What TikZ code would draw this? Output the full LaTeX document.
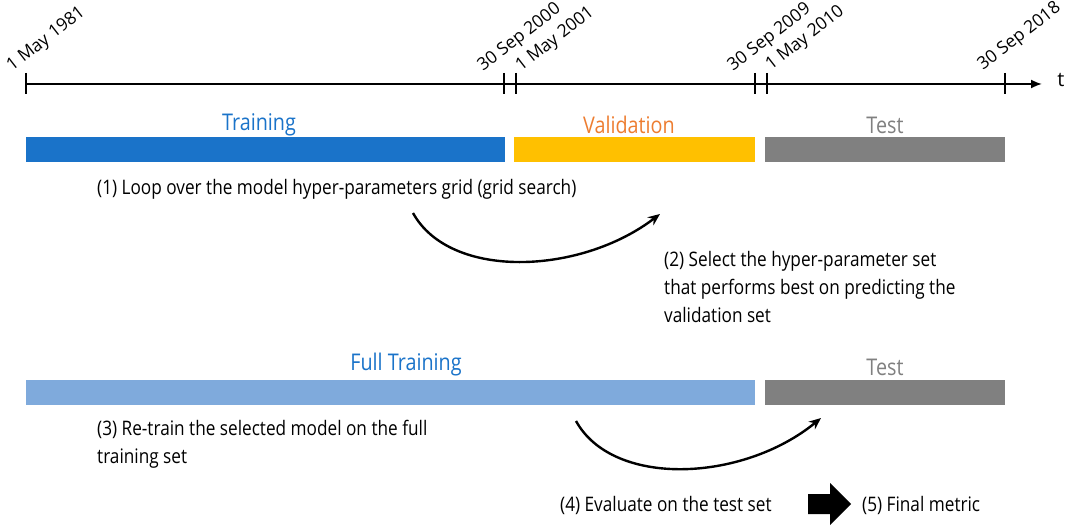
\documentclass[tikz,border=0pt]{standalone}
\usepackage{fontspec}
\setmainfont{Open Sans}
\newfontfamily\condfont{Open Sans}[FakeStretch=0.86]
\usetikzlibrary{arrows.meta}
\definecolor{trainblue}{HTML}{1A73C9}
\definecolor{valyellow}{HTML}{FFC000}
\definecolor{valorange}{HTML}{ED7D31}
\definecolor{testgrey}{HTML}{808080}
\definecolor{fullblue}{HTML}{7FAADC}
\tikzset{
  datelbl/.style={anchor=base west,rotate=38,inner sep=0pt,font=\fontsize{17.5}{20}\selectfont},
  tick/.style={line width=2.6pt},
  bar/.style={draw=none,inner sep=0pt,minimum height=25pt,anchor=north west},
  barlbl/.style={inner sep=0pt,font=\condfont\fontsize{23}{27}\selectfont},
  note/.style={inner sep=0pt,align=left,font=\condfont\fontsize{20}{28}\selectfont},
  curvearrow/.style={line width=2.4pt,-{Stealth[length=12pt,width=10pt]}},
}
\begin{document}
\begin{tikzpicture}[x=1pt,y=-1pt]
\useasboundingbox (0,0) rectangle (1071,526);
% timeline
\coordinate (t0) at (26,84);
\coordinate (tend) at (1042,84);
\draw[line width=1.8pt,-{Latex[length=11pt,width=9pt]}] (t0) -- (tend);
\node[inner sep=0pt,font=\fontsize{20}{24}\selectfont] (tlbl) at (1061,80) {t};
\foreach \x/\n in {26/a,504/b,516/c,755/d,767/e,1005/f}{
  \draw[tick] (\x,73) -- (\x,94);
}
\node[datelbl] (d1) at (12,72) {1 May 1981};
\node[datelbl] (d2) at (483,72) {30 Sep 2000};
\node[datelbl] (d3) at (521,72) {1 May 2001};
\node[datelbl] (d4) at (733,72) {30 Sep 2009};
\node[datelbl] (d5) at (771,71) {1 May 2010};
\node[datelbl] (d6) at (983,71) {30 Sep 2018};
% first row bars
\node[bar,fill=trainblue,minimum width=479pt] (train) at (26,137) {};
\node[bar,fill=valyellow,minimum width=241pt] (val) at (514,137) {};
\node[bar,fill=testgrey,minimum width=240pt] (test) at (765,137) {};
\node[barlbl,text=trainblue] (trainlbl) at (259,125) {Training};
\node[barlbl,text=valorange] (vallbl) at (629,125) {Validation};
\node[barlbl,text=testgrey] (testlbl) at (885,125) {Test};
% notes
\node[note,anchor=west] (n1) at (97,189) {(1) Loop over the model hyper-parameters grid (grid search)};
\node[note,anchor=north west] (n2) at (664,251) {(2) Select the hyper-parameter set\\that performs best on predicting the\\validation set};
\coordinate (a1s) at (413,213);
\coordinate (a1e) at (660,214);
\draw[curvearrow] (a1s) .. controls (450,280) and (580,275) .. (a1e);
% second row
\node[bar,fill=fullblue,minimum width=729pt] (full) at (26,380) {};
\node[bar,fill=testgrey,minimum width=240pt] (test2) at (765,380) {};
\node[barlbl,text=trainblue] (fulllbl) at (406,365) {Full Training};
\node[barlbl,text=testgrey] (test2lbl) at (885,367) {Test};
\node[note,anchor=north west] (n3) at (97,420) {(3) Re-train the selected model on the full\\training set};
\coordinate (a2s) at (576,421);
\coordinate (a2e) at (821,418);
\draw[curvearrow] (a2s) .. controls (613,488) and (743,482) .. (a2e);
\node[note,anchor=west] (n4) at (560,505) {(4) Evaluate on the test set};
\fill (808,494) -- (830,494) -- (830,483) -- (851,504) -- (830,525) -- (830,514) -- (808,514) -- cycle;
\node[note,anchor=west] (n5) at (862,505) {(5) Final metric};
\end{tikzpicture}
\end{document}
